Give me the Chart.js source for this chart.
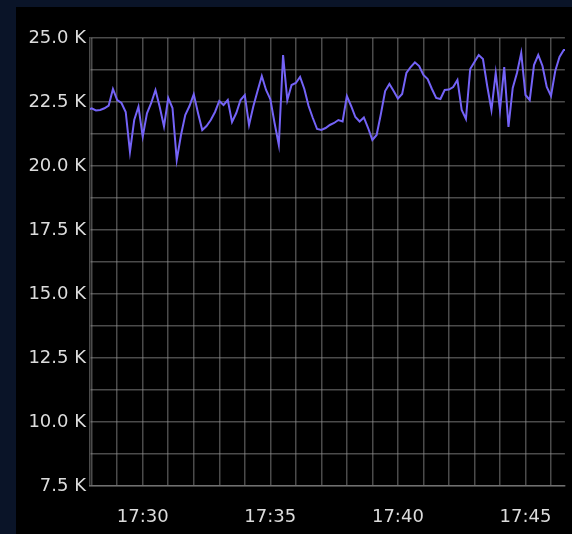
<!DOCTYPE html>
<html>
<head>
<meta charset="utf-8">
<script src="https://cdn.jsdelivr.net/npm/chart.js@4.4.1/dist/chart.umd.min.js"></script>
<style>
  html, body { margin: 0; padding: 0; background: #0a1428; width: 572px; height: 534px; overflow: hidden; }
  #wrap { position: absolute; left: 16px; top: 7px; width: 556px; height: 527px; background: #000; }
  canvas { display: block; }
</style>
</head>
<body>
<div id="wrap"><canvas id="rate" width="556" height="527"></canvas></div>
<script>
// one sample every 10 s, first one at 17:27:50 (minutes after 17:00)
const startMinute = 27 + 50 / 60;
const stepMinutes = 10 / 60;

const values = [
  22188, 22254, 22168, 22188, 22254, 22363, 23008, 22578, 22461, 22110,
  20550, 21797, 22317, 21150, 22059, 22461, 22969, 22305, 21543, 22656,
  22266, 20234, 21211, 21992, 22344, 22800, 22070, 21406, 21563, 21797,
  22110, 22539, 22383, 22578, 21719, 22070, 22578, 22773, 21602, 22324,
  22930, 23516, 22969, 22617, 21680, 20821, 24336, 22578, 23164, 23242,
  23477, 23008, 22344, 21875, 21445, 21406, 21484, 21602, 21680, 21797,
  21738, 22734, 22344, 21914, 21738, 21895, 21484, 21016, 21211, 22031,
  22930, 23203, 22930, 22637, 22813, 23633, 23867, 24050, 23906, 23555,
  23398, 23008, 22656, 22617, 22969, 22988, 23086, 23360, 22188, 21836,
  23789, 24063, 24336, 24180, 23125, 22188, 23633, 22188, 23867, 21524,
  23047, 23633, 24414, 22773, 22578, 23945, 24336, 23906, 23086, 22734,
  23711, 24258, 24531, 24531
];

const xMin = 27.934, xMax = 46.544;
const yMin = 7500, yMax = 25000, yStep = 1250;

const points = values.map((v, i) => ({ x: startMinute + i * stepMinutes, y: v }));

const labelFont = { family: 'DejaVu Sans', size: 18 };
const gridColor = 'rgba(150,150,150,0.5)';

new Chart(document.getElementById('rate'), {
  type: 'line',
  data: {
    datasets: [{
      data: points,
      borderColor: '#7463f7',
      borderWidth: 2,
      pointRadius: 0,
      tension: 0,
      fill: false
    }]
  },
  options: {
    responsive: false,
    animation: false,
    devicePixelRatio: 1,
    layout: { padding: { top: 31, left: 0, right: 0, bottom: 0 } },
    plugins: { legend: { display: false }, tooltip: { enabled: false } },
    scales: {
      x: {
        type: 'linear',
        min: xMin,
        max: xMax,
        afterBuildTicks: s => {
          const t = [];
          for (let m = Math.ceil(xMin); m <= xMax; m++) t.push({ value: m });
          s.ticks = t;
        },
        afterFit: s => { s.height = 48; },
        grid: { color: gridColor, lineWidth: 1.5, drawTicks: false },
        border: { color: gridColor, width: 1.5 },
        ticks: {
          autoSkip: false,
          maxRotation: 0,
          padding: 21,
          color: '#dcdcdc',
          font: labelFont,
          callback: v => (v % 5 === 0 ? '17:' + String(v).padStart(2, '0') : '')
        }
      },
      y: {
        min: yMin,
        max: yMax,
        afterBuildTicks: s => {
          const t = [];
          for (let v = yMin; v <= yMax; v += yStep) t.push({ value: v });
          s.ticks = t;
        },
        afterFit: s => { s.width = 74; },
        grid: { color: gridColor, lineWidth: 1.5, drawTicks: false },
        border: { color: gridColor, width: 1.5 },
        ticks: {
          autoSkip: false,
          padding: 4,
          color: '#dcdcdc',
          font: labelFont,
          callback: v => (v % 2500 === 0 ? (v / 1000).toFixed(1) + ' K' : '')
        }
      }
    }
  }
});
</script>
</body>
</html>
